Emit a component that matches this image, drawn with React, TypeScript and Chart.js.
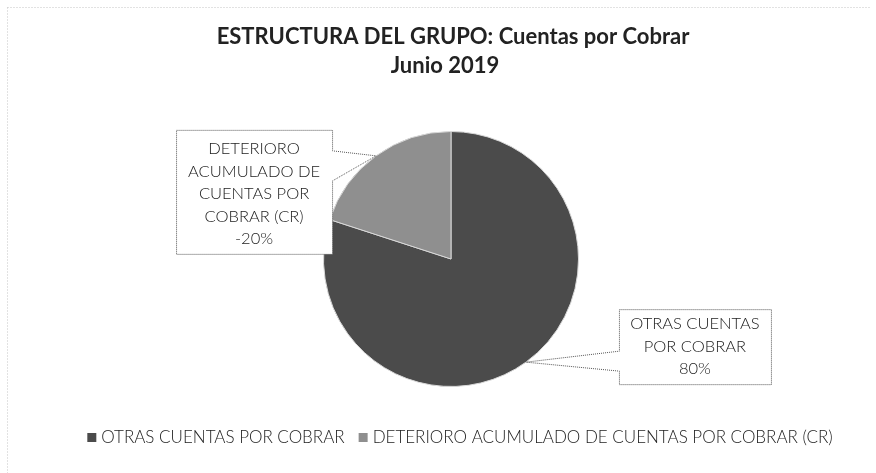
import React, { useEffect, useRef } from "react";
import { Chart, registerables } from "chart.js";

Chart.register(...registerables);

const TITLE_LINES = ["ESTRUCTURA DEL GRUPO: Cuentas por Cobrar", "Junio 2019"];
const CATEGORIES = ["OTRAS CUENTAS POR COBRAR", "DETERIORO ACUMULADO DE CUENTAS POR COBRAR (CR)"];
const VALUES = [80, -20];
const LABEL_LINES = [
  ["OTRAS CUENTAS", "POR COBRAR"],
  ["DETERIORO", "ACUMULADO DE", "CUENTAS POR", "COBRAR (CR)"],
];
const COLORS = ["#4b4b4b", "#8f8f8f"];

// callout styling, relative to the arc's outer mid-point
const CALLOUTS = [
  { side: "right", gap: 93, top: -53, w: 152, h: 75, wedge: [-11, 9], textShift: 0 },
  { side: "left", gap: 44, top: -26, w: 156, h: 124, wedge: [-5, 25], textShift: 2 },
];

const FONT = "Lato, 'Open Sans', sans-serif";
const TEXT = "#222222";

const decorPlugin = {
  id: "decor",
  afterDraw(chart: any) {
    const ctx = chart.ctx as CanvasRenderingContext2D;
    const W = chart.width;
    ctx.save();
    // outer dotted frame
    ctx.strokeStyle = "#c4c4c4";
    ctx.lineWidth = 1;
    ctx.setLineDash([1, 2]);
    ctx.beginPath();
    ctx.moveTo(7.5, 7.5);
    ctx.lineTo(W - 6.5, 7.5);
    ctx.moveTo(7.5, 7.5);
    ctx.lineTo(7.5, chart.height);
    ctx.stroke();
    ctx.setLineDash([]);

    // title
    ctx.fillStyle = TEXT;
    ctx.textAlign = "center";
    ctx.textBaseline = "middle";
    ctx.font = `bold 22px ${FONT}`;
    ctx.fillText(TITLE_LINES[0], 453, 37);
    ctx.fillText(TITLE_LINES[1], 445, 66);

    // callout labels
    const meta = chart.getDatasetMeta(0);
    const total = VALUES.reduce((s, v) => s + Math.abs(v), 0);
    meta.data.forEach((arc: any, i: number) => {
      const mid = (arc.startAngle + arc.endAngle) / 2;
      const tx = arc.x + Math.cos(mid) * arc.outerRadius;
      const ty = arc.y + Math.sin(mid) * arc.outerRadius;
      const c = CALLOUTS[i];
      const left = c.side === "right" ? tx + c.gap : tx - c.gap - c.w;
      const right = left + c.w;
      const top = ty + c.top;
      const bottom = top + c.h;
      const b1 = ty + c.wedge[0];
      const b2 = ty + c.wedge[1];
      ctx.beginPath();
      ctx.moveTo(left + 0.5, top + 0.5);
      ctx.lineTo(right + 0.5, top + 0.5);
      if (c.side === "left") {
        ctx.lineTo(right + 0.5, b1);
        ctx.lineTo(tx, ty);
        ctx.lineTo(right + 0.5, b2);
      }
      ctx.lineTo(right + 0.5, bottom + 0.5);
      ctx.lineTo(left + 0.5, bottom + 0.5);
      if (c.side === "right") {
        ctx.lineTo(left + 0.5, b2);
        ctx.lineTo(tx, ty);
        ctx.lineTo(left + 0.5, b1);
      }
      ctx.closePath();
      ctx.fillStyle = "#ffffff";
      ctx.fill();
      ctx.strokeStyle = "#555555";
      ctx.setLineDash([1, 1]);
      ctx.stroke();
      ctx.setLineDash([]);

      const pct = Math.round((VALUES[i] / total) * 100) + "%";
      const lines = [...LABEL_LINES[i], pct];
      const lh = 22.5;
      const cx = (left + right) / 2;
      const cy = (top + bottom) / 2 + c.textShift;
      ctx.fillStyle = TEXT;
      ctx.font = `300 16.5px ${FONT}`;
      ctx.textAlign = "center";
      ctx.textBaseline = "middle";
      lines.forEach((t, k) => {
        ctx.fillText(t, cx, cy + (k - (lines.length - 1) / 2) * lh);
      });
    });

    // legend
    ctx.font = `300 17px ${FONT}`;
    ctx.textAlign = "left";
    ctx.textBaseline = "middle";
    const box = 9;
    const gapText = 5;
    const gapItem = 14;
    const widths = CATEGORIES.map((n) => ctx.measureText(n).width);
    const totalW = widths.reduce((s, w) => s + box + gapText + w, 0) + gapItem * (CATEGORIES.length - 1);
    let x = 460 - totalW / 2;
    const ly = 437;
    CATEGORIES.forEach((name, i) => {
      ctx.fillStyle = COLORS[i];
      ctx.fillRect(x, ly - 4, box, box);
      ctx.fillStyle = TEXT;
      ctx.fillText(name, x + box + gapText, ly + 1);
      x += box + gapText + widths[i] + gapItem;
    });
    ctx.restore();
  },
};

export default function App() {
  const ref = useRef<HTMLCanvasElement | null>(null);
  useEffect(() => {
    if (!ref.current) return;
    const chart = new Chart(ref.current, {
      type: "pie",
      data: {
        labels: CATEGORIES,
        datasets: [
          {
            data: VALUES,
            backgroundColor: COLORS,
            borderColor: "#d8d8d8",
            borderWidth: 1,
          },
        ],
      },
      options: {
        responsive: false,
        animation: false,
        layout: { padding: { left: 323, right: 297, top: 131, bottom: 86 } },
        plugins: {
          legend: { display: false },
          title: { display: false },
          tooltip: { enabled: false },
        },
      },
      plugins: [decorPlugin],
    });
    return () => chart.destroy();
  }, []);
  return (
    <div style={{ position: "absolute", left: 0, top: 0, width: 876, height: 473, background: "#fff" }}>
      <canvas ref={ref} width={876} height={473} style={{ width: 876, height: 473, display: "block" }} />
    </div>
  );
}
